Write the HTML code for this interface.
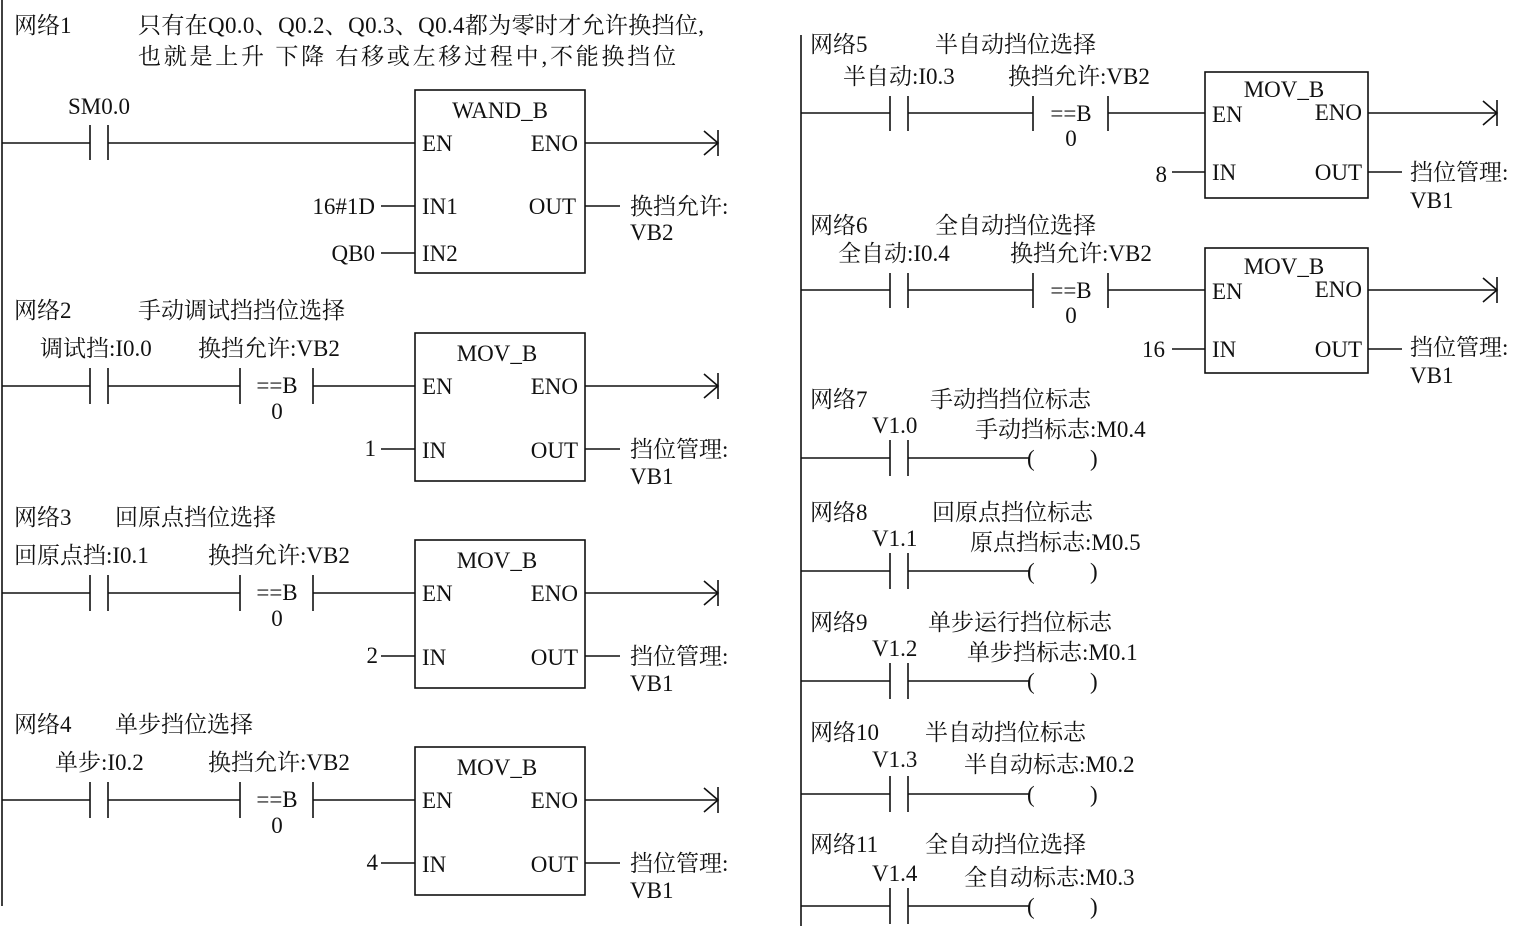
<!DOCTYPE html>
<html><head><meta charset="utf-8"><style>
html,body{margin:0;padding:0;background:#fff}
svg{display:block}
text{font-family:"Liberation Serif","Noto Serif CJK SC",serif;font-size:23px;fill:#111}
line,rect,path{stroke:#111;stroke-width:1.6;fill:none}
</style></head><body>
<svg width="1514" height="926" viewBox="0 0 1514 926">
<line x1="2" y1="0" x2="2" y2="906"/>
<line x1="801" y1="35" x2="801" y2="926"/>

<text x="14" y="33">网络1</text>
<text x="138" y="33" textLength="566">只有在Q0.0、Q0.2、Q0.3、Q0.4都为零时才允许换挡位,</text>
<text x="138" y="64" textLength="538">也就是上升  下降  右移或左移过程中,不能换挡位</text>
<text x="68" y="114">SM0.0</text>
<line x1="2" y1="143" x2="90" y2="143"/><line x1="90" y1="125" x2="90" y2="160"/><line x1="108" y1="125" x2="108" y2="160"/><line x1="108" y1="143" x2="415" y2="143"/>
<rect x="415" y="90" width="170" height="183"/>
<text x="500" y="118" text-anchor="middle">WAND_B</text>
<text x="422" y="151">EN</text><text x="578" y="151" text-anchor="end">ENO</text>
<text x="422" y="214">IN1</text><text x="576" y="214" text-anchor="end">OUT</text>
<text x="422" y="261">IN2</text>
<text x="375" y="214" text-anchor="end">16#1D</text><line x1="381" y1="206" x2="415" y2="206"/>
<text x="375" y="261" text-anchor="end">QB0</text><line x1="381" y1="253" x2="415" y2="253"/>
<line x1="585" y1="206" x2="620" y2="206"/><text x="630" y="214">换挡允许:</text><text x="630" y="240">VB2</text>
<line x1="585" y1="143" x2="718" y2="143"/><path d="M704 131 L718 143 L704 155"/><line x1="718" y1="130" x2="718" y2="156"/>

<g>
<text x="14" y="318">网络2</text><text x="138" y="318">手动调试挡挡位选择</text>
<text x="40" y="356">调试挡:I0.0</text><text x="198" y="356">换挡允许:VB2</text>
<line x1="2" y1="386" x2="90" y2="386"/><line x1="90" y1="368" x2="90" y2="404"/><line x1="108" y1="368" x2="108" y2="404"/>
<line x1="108" y1="386" x2="240" y2="386"/><line x1="240" y1="368" x2="240" y2="404"/><line x1="313" y1="368" x2="313" y2="404"/><line x1="313" y1="386" x2="415" y2="386"/>
<text x="277" y="393" text-anchor="middle">==B</text><text x="277" y="419" text-anchor="middle">0</text>
<rect x="415" y="333" width="170" height="148"/>
<text x="497" y="361" text-anchor="middle">MOV_B</text>
<text x="422" y="394">EN</text><text x="578" y="394" text-anchor="end">ENO</text>
<text x="422" y="458">IN</text><text x="578" y="458" text-anchor="end">OUT</text>
<text x="376" y="456" text-anchor="end">1</text><line x1="381" y1="449" x2="415" y2="449"/>
<line x1="585" y1="449" x2="620" y2="449"/><text x="630" y="457">挡位管理:</text><text x="630" y="484">VB1</text>
<line x1="585" y1="386" x2="718" y2="386"/><path d="M704 374 L718 386 L704 398"/><line x1="718" y1="373" x2="718" y2="399"/>
</g>

<g transform="translate(0,207)">
<text x="14" y="318">网络3</text><text x="115" y="318">回原点挡位选择</text>
<text x="14" y="356">回原点挡:I0.1</text><text x="208" y="356">换挡允许:VB2</text>
<line x1="2" y1="386" x2="90" y2="386"/><line x1="90" y1="368" x2="90" y2="404"/><line x1="108" y1="368" x2="108" y2="404"/>
<line x1="108" y1="386" x2="240" y2="386"/><line x1="240" y1="368" x2="240" y2="404"/><line x1="313" y1="368" x2="313" y2="404"/><line x1="313" y1="386" x2="415" y2="386"/>
<text x="277" y="393" text-anchor="middle">==B</text><text x="277" y="419" text-anchor="middle">0</text>
<rect x="415" y="333" width="170" height="148"/>
<text x="497" y="361" text-anchor="middle">MOV_B</text>
<text x="422" y="394">EN</text><text x="578" y="394" text-anchor="end">ENO</text>
<text x="422" y="458">IN</text><text x="578" y="458" text-anchor="end">OUT</text>
<text x="378" y="456" text-anchor="end">2</text><line x1="381" y1="449" x2="415" y2="449"/>
<line x1="585" y1="449" x2="620" y2="449"/><text x="630" y="457">挡位管理:</text><text x="630" y="484">VB1</text>
<line x1="585" y1="386" x2="718" y2="386"/><path d="M704 374 L718 386 L704 398"/><line x1="718" y1="373" x2="718" y2="399"/>
</g>

<g transform="translate(0,414)">
<text x="14" y="318">网络4</text><text x="115" y="318">单步挡位选择</text>
<text x="55" y="356">单步:I0.2</text><text x="208" y="356">换挡允许:VB2</text>
<line x1="2" y1="386" x2="90" y2="386"/><line x1="90" y1="368" x2="90" y2="404"/><line x1="108" y1="368" x2="108" y2="404"/>
<line x1="108" y1="386" x2="240" y2="386"/><line x1="240" y1="368" x2="240" y2="404"/><line x1="313" y1="368" x2="313" y2="404"/><line x1="313" y1="386" x2="415" y2="386"/>
<text x="277" y="393" text-anchor="middle">==B</text><text x="277" y="419" text-anchor="middle">0</text>
<rect x="415" y="333" width="170" height="148"/>
<text x="497" y="361" text-anchor="middle">MOV_B</text>
<text x="422" y="394">EN</text><text x="578" y="394" text-anchor="end">ENO</text>
<text x="422" y="458">IN</text><text x="578" y="458" text-anchor="end">OUT</text>
<text x="378" y="456" text-anchor="end">4</text><line x1="381" y1="449" x2="415" y2="449"/>
<line x1="585" y1="449" x2="620" y2="449"/><text x="630" y="457">挡位管理:</text><text x="630" y="484">VB1</text>
<line x1="585" y1="386" x2="718" y2="386"/><path d="M704 374 L718 386 L704 398"/><line x1="718" y1="373" x2="718" y2="399"/>
</g>

<g>
<text x="810" y="52">网络5</text><text x="935" y="52">半自动挡位选择</text>
<text x="843" y="84">半自动:I0.3</text><text x="1008" y="84">换挡允许:VB2</text>
<line x1="801" y1="113" x2="890" y2="113"/><line x1="890" y1="96" x2="890" y2="131"/><line x1="908" y1="96" x2="908" y2="131"/>
<line x1="908" y1="113" x2="1033" y2="113"/><line x1="1033" y1="96" x2="1033" y2="131"/><line x1="1108" y1="96" x2="1108" y2="131"/><line x1="1108" y1="113" x2="1205" y2="113"/>
<text x="1071" y="121" text-anchor="middle">==B</text><text x="1071" y="146" text-anchor="middle">0</text>
<rect x="1205" y="72" width="163" height="126"/>
<text x="1284" y="97" text-anchor="middle">MOV_B</text>
<text x="1212" y="122">EN</text><text x="1362" y="120" text-anchor="end">ENO</text>
<text x="1212" y="180">IN</text><text x="1362" y="180" text-anchor="end">OUT</text>
<text x="1167" y="182" text-anchor="end">8</text><line x1="1172" y1="172" x2="1205" y2="172"/>
<line x1="1368" y1="172" x2="1402" y2="172"/><text x="1410" y="180">挡位管理:</text><text x="1410" y="208">VB1</text>
<line x1="1368" y1="113" x2="1497" y2="113"/><path d="M1483 101 L1497 113 L1483 125"/><line x1="1497" y1="100" x2="1497" y2="126"/>
</g>

<g transform="translate(0,177)">
<text x="810" y="56">网络6</text><text x="935" y="56">全自动挡位选择</text>
<text x="838" y="84">全自动:I0.4</text><text x="1010" y="84">换挡允许:VB2</text>
<line x1="801" y1="113" x2="890" y2="113"/><line x1="890" y1="96" x2="890" y2="131"/><line x1="908" y1="96" x2="908" y2="131"/>
<line x1="908" y1="113" x2="1033" y2="113"/><line x1="1033" y1="96" x2="1033" y2="131"/><line x1="1108" y1="96" x2="1108" y2="131"/><line x1="1108" y1="113" x2="1205" y2="113"/>
<text x="1071" y="121" text-anchor="middle">==B</text><text x="1071" y="146" text-anchor="middle">0</text>
<rect x="1205" y="71" width="163" height="125"/>
<text x="1284" y="97" text-anchor="middle">MOV_B</text>
<text x="1212" y="122">EN</text><text x="1362" y="120" text-anchor="end">ENO</text>
<text x="1212" y="180">IN</text><text x="1362" y="180" text-anchor="end">OUT</text>
<text x="1165" y="180" text-anchor="end">16</text><line x1="1172" y1="172" x2="1205" y2="172"/>
<line x1="1368" y1="172" x2="1402" y2="172"/><text x="1410" y="178">挡位管理:</text><text x="1410" y="206">VB1</text>
<line x1="1368" y1="113" x2="1497" y2="113"/><path d="M1483 101 L1497 113 L1483 125"/><line x1="1497" y1="100" x2="1497" y2="126"/>
</g>

<g>
<text x="810" y="407">网络7</text><text x="930" y="407">手动挡挡位标志</text>
<text x="872" y="433">V1.0</text><text x="975" y="437">手动挡标志:M0.4</text>
<line x1="801" y1="458" x2="890" y2="458"/><line x1="890" y1="440" x2="890" y2="476"/><line x1="908" y1="440" x2="908" y2="476"/><line x1="908" y1="458" x2="1030" y2="458"/>
<text x="1027" y="466">(</text><text x="1090" y="466">)</text>
</g>
<g transform="translate(0,113)">
<text x="810" y="407">网络8</text><text x="932" y="407">回原点挡位标志</text>
<text x="872" y="433">V1.1</text><text x="970" y="437">原点挡标志:M0.5</text>
<line x1="801" y1="458" x2="890" y2="458"/><line x1="890" y1="440" x2="890" y2="476"/><line x1="908" y1="440" x2="908" y2="476"/><line x1="908" y1="458" x2="1030" y2="458"/>
<text x="1027" y="466">(</text><text x="1090" y="466">)</text>
</g>
<g transform="translate(0,223)">
<text x="810" y="407">网络9</text><text x="928" y="407">单步运行挡位标志</text>
<text x="872" y="433">V1.2</text><text x="967" y="437">单步挡标志:M0.1</text>
<line x1="801" y1="458" x2="890" y2="458"/><line x1="890" y1="440" x2="890" y2="476"/><line x1="908" y1="440" x2="908" y2="476"/><line x1="908" y1="458" x2="1030" y2="458"/>
<text x="1027" y="466">(</text><text x="1090" y="466">)</text>
</g>
<g transform="translate(0,336)">
<text x="810" y="404">网络10</text><text x="925" y="404">半自动挡位标志</text>
<text x="872" y="431">V1.3</text><text x="964" y="436">半自动标志:M0.2</text>
<line x1="801" y1="458" x2="890" y2="458"/><line x1="890" y1="440" x2="890" y2="476"/><line x1="908" y1="440" x2="908" y2="476"/><line x1="908" y1="458" x2="1030" y2="458"/>
<text x="1027" y="466">(</text><text x="1090" y="466">)</text>
</g>
<g transform="translate(0,448)">
<text x="810" y="404">网络11</text><text x="925" y="404">全自动挡位选择</text>
<text x="872" y="433">V1.4</text><text x="964" y="437">全自动标志:M0.3</text>
<line x1="801" y1="458" x2="890" y2="458"/><line x1="890" y1="440" x2="890" y2="476"/><line x1="908" y1="440" x2="908" y2="476"/><line x1="908" y1="458" x2="1030" y2="458"/>
<text x="1027" y="466">(</text><text x="1090" y="466">)</text>
</g>
</svg>
</body></html>
